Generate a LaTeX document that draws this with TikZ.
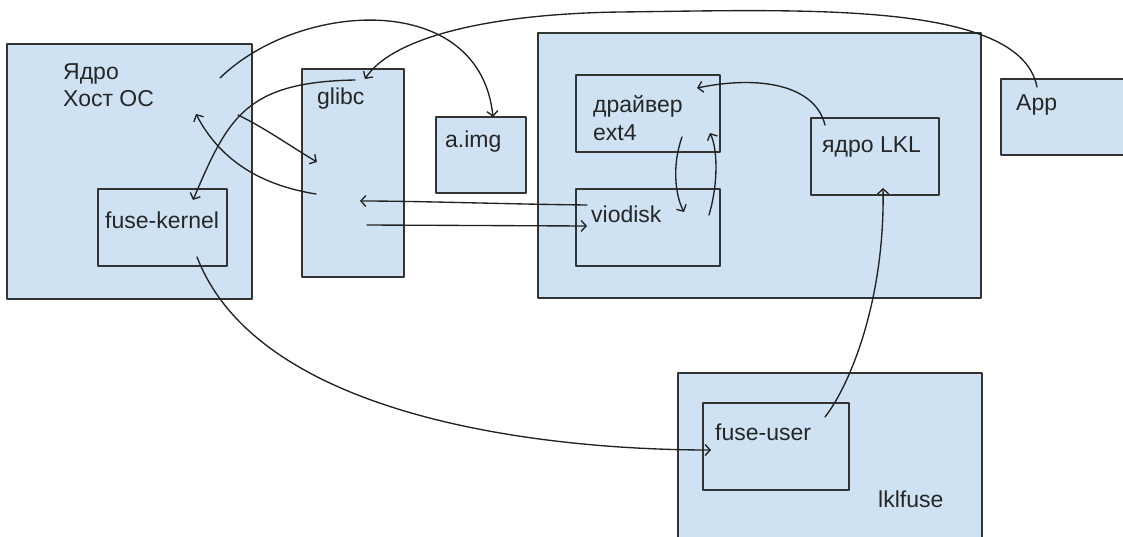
\documentclass[tikz,border=0pt]{standalone}
\usepackage{fontspec}
\setmainfont{Liberation Sans}
\usetikzlibrary{arrows.meta}
\definecolor{boxfill}{HTML}{CFE2F3}
\definecolor{boxline}{HTML}{333333}
\definecolor{inkline}{HTML}{222222}
\definecolor{inktext}{HTML}{262626}

\begin{document}
\begin{tikzpicture}[line cap=round,line join=round,>={Straight Barb[length=5pt,width=11pt]},x=1pt,y=-1pt,
    box/.style={draw=boxline, fill=boxfill, line width=1.6pt, inner sep=0pt, outer sep=0pt, anchor=north west},
    lbl/.style={anchor=base west, inner sep=0pt, text=inktext, font=\fontsize{23}{28}\selectfont},
    link/.style={->, draw=inkline, line width=1.35pt}]
    \clip (0,0) rectangle (1123,536);

    % boxes
    \node[box, minimum width=245pt, minimum height=255pt] (host) at (7,44) {};
    \node[box, minimum width=129pt, minimum height=77pt] (fusek) at (98,189) {};
    \node[box, minimum width=102pt, minimum height=208pt] (glibc) at (302,69) {};
    \node[box, minimum width=90pt, minimum height=76pt] (aimg) at (436,117) {};
    \node[box, minimum width=443pt, minimum height=265pt] (lkl) at (538,33) {};
    \node[box, minimum width=144pt, minimum height=77pt] (ext4) at (576,75) {};
    \node[box, minimum width=144pt, minimum height=77pt] (viodisk) at (576,189) {};
    \node[box, minimum width=128pt, minimum height=77pt] (lklcore) at (811,118) {};
    \node[box, minimum width=140pt, minimum height=76pt] (app) at (1001,79) {};
    \node[box, minimum width=304pt, minimum height=180pt] (lklfuse) at (678,373) {};
    \node[box, minimum width=146pt, minimum height=87pt] (fuseu) at (703,403) {};

    % labels
    \node[lbl] (hostname) at (63,79.5) {Ядро};
    \node[lbl] (hostos) at (63,106.5) {Хост ОС};
    \node[lbl] (fusekname) at (105,228) {fuse-kernel};
    \node[lbl] (glibcname) at (317,104) {glibc};
    \node[lbl] (aimgname) at (445,147) {a.img};
    \node[lbl] (ext4name) at (593,112) {драйвер};
    \node[lbl] (ext4nameb) at (593,140) {ext4};
    \node[lbl] (vioname) at (591,222) {viodisk};
    \node[lbl] (lklname) at (822,152) {ядро LKL};
    \node[lbl] (appname) at (1016,110) {App};
    \node[lbl] (fuseuname) at (715,440) {fuse-user};
    \node[lbl] (lklfusename) at (878,507) {lklfuse};

    % arrow ends
    \coordinate (hostout) at (220,78);
    \coordinate (aimgin) at (493,117);
    \coordinate (appout) at (1037,87);
    \coordinate (glibcin) at (365,79);
    \coordinate (glibcup) at (355,80);
    \coordinate (fusekin) at (193,200);
    \coordinate (glibcback) at (316,194);
    \coordinate (hostin) at (196,114);
    \coordinate (hostdown) at (238,115);
    \coordinate (glibcmid) at (317,162);
    \coordinate (vioout) at (587,205);
    \coordinate (glibcret) at (360,201);
    \coordinate (glibcsend) at (367,225);
    \coordinate (vioin) at (587,226);
    \coordinate (ext4down) at (682,137);
    \coordinate (viotop) at (684,212);
    \coordinate (vioup) at (709,215);
    \coordinate (ext4in) at (710,133);
    \coordinate (lklout) at (825,125);
    \coordinate (ext4corner) at (697,88);
    \coordinate (fuseuout) at (825,417);
    \coordinate (lklin) at (883,188);
    \coordinate (fusekout) at (197,257);
    \coordinate (fuseuin) at (711,450);

    % connectors
    \draw[link] (hostout) .. controls (300,0) and (480,-10) .. (aimgin);
    \draw[link] (appout) .. controls (1020,0) and (800,10) .. (620,12) .. controls (480,14) and (390,40) .. (glibcin);
    \draw[link] (glibcup) .. controls (245,82) and (228,118) .. (fusekin);
    \draw[link] (glibcback) .. controls (260,185) and (220,160) .. (hostin);
    \draw[link] (hostdown) .. controls (265,128) and (290,146) .. (glibcmid);
    \draw[link] (vioout) .. controls (500,204) and (420,201) .. (glibcret);
    \draw[link] (glibcsend) -- (vioin);
    \draw[link] (ext4down) .. controls (672,165) and (675,195) .. (viotop);
    \draw[link] (vioup) .. controls (718,185) and (718,150) .. (ext4in);
    \draw[link] (lklout) .. controls (815,85) and (760,75) .. (ext4corner);
    \draw[link] (fuseuout) .. controls (850,385) and (885,300) .. (lklin);
    \draw[link] (fusekout) .. controls (260,420) and (550,450) .. (fuseuin);
\end{tikzpicture}
\end{document}
